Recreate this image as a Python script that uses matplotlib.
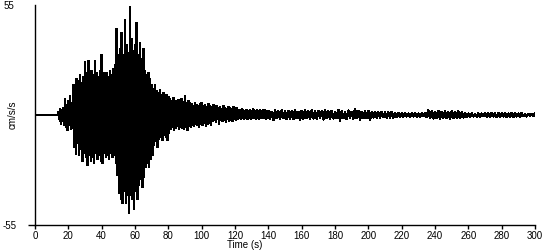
import numpy as np
import matplotlib
matplotlib.use("Agg")
import matplotlib.pyplot as plt

plt.rcParams['font.family'] = ['Liberation Sans', 'DejaVu Sans']

# ---- data (cm/s/s) ----
quiet_end = 14  # record is flat until this time (s)

# strong-motion part: one positive and one negative peak per second, t = 14 .. 139
strong_start = 14
hi_strong = [1.5, 3, 2.5, 3.5,
             8, 5, 7, 9.5, 6,
             15, 13, 18,
             17, 20, 16, 19, 26.5,
             21, 27, 19, 22, 20, 27, 21, 19, 22, 30, 21, 20,
             21, 19, 22, 20, 23, 25,
             43, 30, 33, 41, 30, 47.5, 35, 31, 54, 38, 32, 35, 46, 30, 36, 28, 33,
             22, 20, 21, 18, 15,
             13, 15, 12, 11, 12.5, 10, 11, 9, 10, 9,
             8, 7, 8.5, 6, 7, 7.5, 6, 8, 6.5, 9.5, 6, 7, 6,
             5.5, 4.5, 6, 5, 4.5, 5.5, 6, 4.5, 5, 4, 5.5, 4.5,
             4, 5, 3.5, 4.5, 3.5, 4, 3, 4.5, 3.5, 3, 4, 3.5, 3, 4, 3, 3.5,
             2.5, 2, 2.8, 2.2, 2, 2.6, 1.8, 2.4, 2, 2.7, 1.9, 2.3, 2, 2.5, 1.8, 2.2, 2.6, 2]
lo_strong = [-2, -4.5, -3, -5,
             -6, -7.5, -5, -7, -6.5,
             -16, -19.5, -14,
             -20, -17, -23, -19, -21,
             -25, -20, -23, -21, -24, -19, -22, -20, -23, -24, -19, -21,
             -20, -22, -19, -21, -20, -24,
             -30, -39, -42, -44, -38, -44, -40, -49, -40, -42, -47, -38, -42, -35, -32, -36, -31,
             -26, -24, -26, -22, -20,
             -15, -13, -16, -12, -11, -12.5, -10, -11, -12.5, -9,
             -7, -6, -7.5, -6.5, -5.5, -7, -6, -6.5, -7, -6, -7.5, -5.5, -6,
             -5, -5.5, -4.5, -5, -6, -4.5, -5, -4, -5.5, -4.5, -4, -5,
             -3, -2.5, -3.5, -2, -4.2, -2.5, -3, -2.5, -3.5, -2, -3, -2.5, -3, -2, -2.5, -2,
             -1.5, -2, -1.2, -1.8, -1.5, -2, -1.3, -1.7, -1.5, -1.2, -2, -1.4, -1.8, -1.3, -1.6, -1.2, -1.9, -1.4]

# tail: one positive and one negative peak every 2 s, t = 140 .. 298
tail_start = 140
hi_tail = [2, 1.6, 2.2, 1.8, 2.4, 1.7, 2.1, 1.9, 2.5, 1.6,
           2, 2.2, 1.8, 2.3, 1.7, 2.1, 1.9, 2.3, 1.8, 2,
           1.5, 2.5, 1.8, 1.4, 2.2, 1.6, 3, 2, 1.5, 1.8,
           2, 1.4, 1.5, 1.3, 1.6, 1.2, 1.4, 1.5, 1.1, 1,
           0.8, 0.9, 0.7, 0.8, 0.9, 0.7, 0.8, 1, 2.3, 1.8,
           1.6, 2, 1.5, 1.8, 1.4, 1.9, 1.6, 1.8, 1.3, 1.1,
           0.7, 0.8, 0.6, 0.8, 0.7, 0.9, 0.8, 1, 0.7, 0.9,
           0.8, 1, 0.7, 0.9, 0.8, 0.7, 0.9, 0.6, 0.5, 0.6]
lo_tail = [-1.8, -2.5, -1.5, -2, -1.6, -2.1, -1.7, -2, -1.5, -2.5,
           -1.8, -1.6, -2, -1.7, -1.9, -1.5, -2.2, -1.6, -2, -1.7,
           -1.5, -2.8, -1.5, -2, -1.4, -1.8, -1.5, -2.2, -1.6, -1.5,
           -2.5, -1.2, -1.3, -1.4, -1.1, -1.3, -1.2, -1.4, -1, -0.9,
           -0.8, -0.7, -0.9, -0.7, -0.8, -0.8, -0.6, -0.9, -1.6, -1.7,
           -1.5, -1.7, -1.4, -1.6, -1.7, -1.5, -1.4, -1.6, -1.2, -1,
           -0.8, -0.7, -0.8, -0.9, -0.6, -0.8, -0.9, -0.7, -0.9, -0.8,
           -0.7, -0.9, -0.8, -1, -0.7, -0.8, -0.6, -0.7, -0.5, -0.4]
end_time, end_value = 300, 0.8

x_ticks = list(range(0, 301, 20))
y_ticks = [-55, 55]

# ---- assemble trace ----
ts = np.arange(len(hi_strong)) + strong_start
tt = np.arange(len(hi_tail)) * 2 + tail_start
times = [0, quiet_end]
vals = [0, 0]
for t, h, l in zip(ts, hi_strong, lo_strong):
    times += [t, t + 0.5]
    vals += [h, l]
for t, h, l in zip(tt, hi_tail, lo_tail):
    times += [t, t + 1]
    vals += [h, l]
times.append(end_time)
vals.append(end_value)

fig = plt.figure(figsize=(5.5, 2.5), dpi=100)
ax = fig.add_axes([35 / 550, 25 / 250, 500 / 550, 220 / 250])
ax.plot(times, vals, color='black', lw=1.0, antialiased=False)

ax.set_xlim(0, 300)
ax.set_ylim(-55, 55)
for s in ['top', 'right']:
    ax.spines[s].set_visible(False)
for s in ['left', 'bottom']:
    ax.spines[s].set_linewidth(1)
    ax.spines[s].set_color('black')

ax.set_xticks(x_ticks)
ax.set_xticklabels([str(v) for v in x_ticks])
ax.tick_params(axis='x', direction='out', length=3, width=1, pad=1, labelsize=7)
ax.set_yticks(y_ticks)
ax.set_yticklabels([str(v) for v in y_ticks], ha='left')
ax.tick_params(axis='y', direction='out', length=5, width=1, pad=18, labelsize=7)
ax.yaxis.get_major_ticks()[1].tick1line.set_visible(False)

fig.text(12.5 / 550, 1 - 115 / 250, 'cm/s/s', rotation=90, ha='center', va='center', fontsize=7)
fig.text(245 / 550, 1 - 240 / 250, 'Time (s)', ha='center', va='top', fontsize=7)

fig.savefig('out.png', dpi=100)
